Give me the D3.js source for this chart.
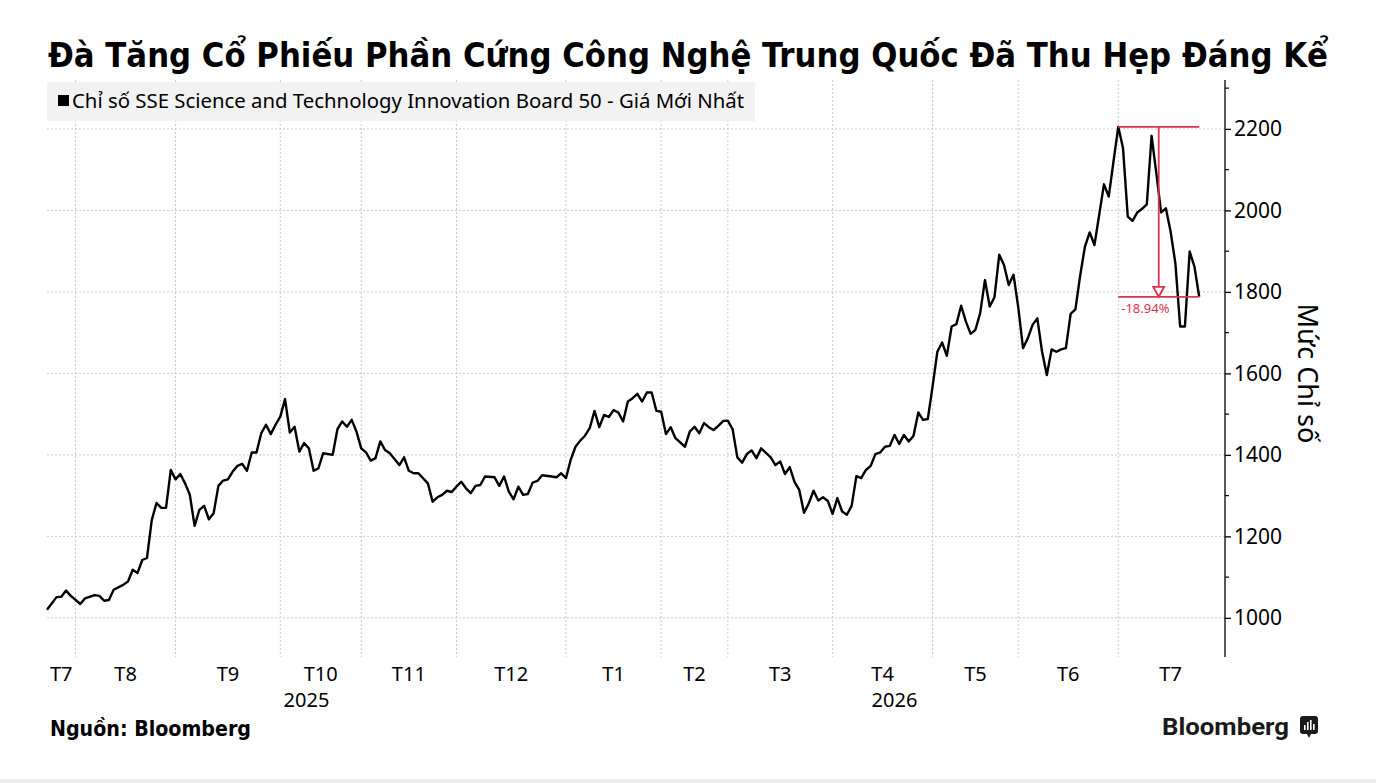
<!DOCTYPE html>
<html><head><meta charset="utf-8">
<script src="https://cdn.jsdelivr.net/npm/d3@7/dist/d3.min.js"></script>
<style>body{margin:0;background:#fff}svg{display:block}</style>
</head><body>
<svg id="chart" width="1376" height="783"></svg>
<script>
// ---------- data ----------
const titleText = "Đà Tăng Cổ Phiếu Phần Cứng Công Nghệ Trung Quốc Đã Thu Hẹp Đáng Kể";
const legendLabel = "Chỉ số SSE Science and Technology Innovation Board 50 - Giá Mới Nhất";
const axisTitle = "Mức Chỉ số";
const sourceText = "Nguồn: Bloomberg";
const brandText = "Bloomberg";

// trading-session index (from first session shown) and index level
const sessions = [0,2,3,4,5,7,8,10,11,12,13,14,16,17,18,19,20,21,22,23,24,25,26,27,28,29,30,31,32,33,34,35,36,37,38,39,40,41,42,43,44,45,46,47,48,49,50,51,52,53,54,55,56,57,58,60,61,62,63,64,65,66,67,68,69,70,71,72,74,75,76,77,78,80,81,82,83,84,85,86,87,88,89,90,91,92,94,95,96,97,98,99,100,101,102,103,104,106,107,108,109,110,111,112,113,114,115,116,117,118,119,120,121,122,123,124,125,126,127,128,129,130,131,132,134,135,136,137,138,139,140,141,142,143,144,145,146,147,148,149,150,152,153,154,155,156,157,158,159,160,161,162,163,164,165,166,167,168,169,170,171,172,173,174,175,176,177,178,179,180,181,182,183,184,185,186,187,188,189,190,191,192,193,194,195,196,197,198,199,200,201,202,203,204,205,206,207,208,209,210,211,212,213,214,215,216,217,218,219,220,222,223,224,225,226,227,228,229,230,231,232,233,234,235,236,237,238,239,240,241,242];
const values = [1020,1051,1052,1067,1054,1034,1048,1056,1054,1042,1044,1069,1081,1089,1118,1110,1142,1147,1240,1282,1270,1270,1363,1340,1353,1330,1302,1226,1265,1275,1242,1257,1324,1337,1340,1359,1373,1378,1361,1406,1406,1453,1474,1451,1474,1494,1537,1455,1469,1408,1429,1416,1361,1367,1404,1400,1463,1482,1469,1486,1457,1416,1406,1386,1392,1433,1412,1404,1375,1394,1361,1355,1355,1330,1285,1296,1302,1312,1309,1322,1334,1318,1306,1324,1326,1347,1345,1324,1347,1310,1291,1322,1302,1304,1332,1336,1350,1347,1345,1355,1343,1388,1420,1435,1447,1466,1508,1468,1498,1493,1510,1504,1482,1531,1539,1550,1531,1553,1553,1508,1506,1451,1468,1441,1420,1457,1469,1453,1478,1468,1461,1471,1483,1484,1463,1394,1381,1402,1411,1392,1416,1394,1375,1384,1353,1370,1334,1314,1258,1281,1312,1288,1296,1287,1255,1294,1261,1253,1275,1348,1343,1363,1373,1402,1406,1420,1422,1449,1427,1449,1433,1447,1504,1486,1488,1568,1653,1676,1643,1715,1721,1766,1727,1697,1707,1748,1829,1764,1787,1891,1866,1817,1842,1762,1662,1686,1719,1735,1653,1596,1659,1653,1659,1662,1746,1757,1840,1911,1946,1915,2064,2034,2120,2205,2153,1985,1974,1995,2004,2015,2183,2091,1995,2005,1948,1870,1715,1715,1899,1862,1788];

const monthLabels = ["T7","T8","T9","T10","T11","T12","T1","T2","T3","T4","T5","T6","T7"];
// session index where each month starts (last entry = end of final month)
const monthStarts = [0,6,27,49,66,86,109,129,143,165,186,204,225,247];
const yearLabels = ["2025","2026"];
const yearSessions = [54.5, 178];
const yTicks = [1000,1200,1400,1600,1800,2000,2200];
const yMinorTicks = [1100,1300,1500,1700,1900,2100,2300];
const drawdownLabel = "-18.94%";

(function () {
const svg = d3.select("#chart");
const pLeft = 47, pRight = 1225, pTop = 80, pBottom = 657;
const red = "#d9344f";
const gridColor = "#c9c9c9";

const x = d3.scaleLinear().domain([0, 247]).range([pLeft, 1223]);
const y = d3.scaleLinear().domain([904, 2320]).range([pBottom, pTop]);

// title: pick a size whose natural width fits, then fill exactly
const t = svg.append("text")
  .attr("x", 48).attr("y", 67)
  .attr("font-family", "'Liberation Sans Narrow','DejaVu Sans Condensed','Roboto','Open Sans',sans-serif")
  .attr("font-weight", "bold").attr("font-size", 37)
  .attr("fill", "#000").text(titleText);
const nat = t.node().getComputedTextLength();
if (nat > 1280) t.attr("font-size", 37 * 1280 / nat);
t.attr("textLength", 1280).attr("lengthAdjust", "spacingAndGlyphs");

// horizontal gridlines
svg.append("g").selectAll("line").data(yTicks).join("line")
  .attr("x1", pLeft).attr("x2", pRight)
  .attr("y1", d => y(d)).attr("y2", d => y(d))
  .attr("stroke", gridColor).attr("stroke-width", 1).attr("stroke-dasharray", "2,2");

// vertical gridlines at month starts
svg.append("g").selectAll("line").data(monthStarts.slice(1, -1)).join("line")
  .attr("x1", d => x(d)).attr("x2", d => x(d))
  .attr("y1", pTop).attr("y2", pBottom)
  .attr("stroke", gridColor).attr("stroke-width", 1).attr("stroke-dasharray", "2,2");

// legend box
svg.append("rect").attr("x", 47).attr("y", 82).attr("width", 708).attr("height", 39).attr("fill", "#f2f2f2");
svg.append("rect").attr("x", 58).attr("y", 95).attr("width", 11).attr("height", 11).attr("fill", "#000");
svg.append("text")
  .attr("x", 72).attr("y", 108)
  .attr("font-family", "'Noto Sans','Open Sans',sans-serif").attr("font-size", 19)
  .attr("textLength", 672).attr("lengthAdjust", "spacingAndGlyphs")
  .attr("fill", "#000").text(legendLabel);

// line
const pts = sessions.map((s, i) => [s, values[i]]);
svg.append("path").datum(pts)
  .attr("d", d3.line().x(d => x(d[0])).y(d => y(d[1])))
  .attr("fill", "none").attr("stroke", "#000").attr("stroke-width", 2.4)
  .attr("stroke-linejoin", "round");

// right axis
const yAxis = d3.axisRight(y).tickValues(yTicks).tickSize(6).tickPadding(3).tickFormat(d3.format("d"));
const ag = svg.append("g").attr("transform", `translate(${pRight},0)`).call(yAxis);
ag.select(".domain").attr("d", `M0,${pTop}V${pBottom}`).attr("stroke", "#000").attr("stroke-width", 1.3);
ag.selectAll(".tick line").attr("stroke", "#000").attr("stroke-width", 1.3);
ag.selectAll(".tick text").attr("font-family", "'Noto Sans','Open Sans',sans-serif")
  .attr("font-size", 21).attr("fill", "#000");
svg.append("g").selectAll("line").data(yMinorTicks.filter(d => y(d) >= pTop)).join("line")
  .attr("x1", pRight).attr("x2", pRight + 4)
  .attr("y1", d => y(d)).attr("y2", d => y(d))
  .attr("stroke", "#000").attr("stroke-width", 1.2);

// axis title
svg.append("text")
  .attr("transform", `translate(1298,${(y(1800) + y(1400)) / 2}) rotate(90)`)
  .attr("text-anchor", "middle")
  .attr("font-family", "'Noto Sans','Open Sans',sans-serif").attr("font-size", 27)
  .attr("fill", "#000").text(axisTitle);

// month labels
svg.append("g").selectAll("text").data(monthLabels).join("text")
  .attr("x", (d, i) => (x(monthStarts[i]) + x(monthStarts[i + 1])) / 2)
  .attr("y", 681).attr("text-anchor", "middle")
  .attr("font-family", "'Noto Sans','Open Sans',sans-serif").attr("font-size", 20)
  .attr("fill", "#000").text(d => d);
svg.append("g").selectAll("text").data(yearLabels).join("text")
  .attr("x", (d, i) => x(yearSessions[i]))
  .attr("y", 707).attr("text-anchor", "middle")
  .attr("font-family", "'Noto Sans','Open Sans',sans-serif").attr("font-size", 20)
  .attr("fill", "#000").text(d => d);

// drawdown annotation
const peakIdx = d3.maxIndex(values);
const lastIdx = values.length - 1;
const x0 = x(sessions[peakIdx]), x1 = x(sessions[lastIdx]);
const yPeak = y(values[peakIdx]), yLast = y(values[lastIdx]);
const xm = (x0 + x1) / 2;
const ann = svg.append("g").attr("stroke", red).attr("stroke-width", 1.8).attr("fill", "none");
ann.append("line").attr("x1", x0).attr("x2", x1).attr("y1", yPeak).attr("y2", yPeak);
ann.append("line").attr("x1", x0).attr("x2", x1).attr("y1", yLast).attr("y2", yLast);
ann.append("line").attr("x1", xm).attr("x2", xm).attr("y1", yPeak).attr("y2", yLast - 10);
ann.append("path").attr("d", `M${xm - 5.5},${yLast - 10}L${xm + 5.5},${yLast - 10}L${xm},${yLast}Z`)
  .attr("fill", "#fff");
svg.append("text").attr("x", x0 + 3).attr("y", yLast + 16)
  .attr("font-family", "'Noto Sans','Open Sans',sans-serif").attr("font-size", 13)
  .attr("fill", red).text(drawdownLabel);

// footer
svg.append("text").attr("x", 50).attr("y", 736)
  .attr("font-family", "'Liberation Sans Narrow','DejaVu Sans Condensed','Roboto',sans-serif")
  .attr("font-weight", "bold").attr("font-size", 21)
  .attr("textLength", 201).attr("lengthAdjust", "spacingAndGlyphs")
  .attr("fill", "#000").text(sourceText);
svg.append("text").attr("x", 1162).attr("y", 735)
  .attr("font-family", "'Roboto','Noto Sans',sans-serif")
  .attr("font-weight", "bold").attr("font-size", 24)
  .attr("textLength", 127).attr("lengthAdjust", "spacingAndGlyphs")
  .attr("fill", "#1a1a1a").text(brandText);
const icon = svg.append("g").attr("transform", "translate(1300,716)");
icon.append("rect").attr("width", 18).attr("height", 18).attr("rx", 3).attr("fill", "#1a1a1a");
icon.append("path").attr("d", "M7,18L9,22L11,18Z").attr("fill", "#1a1a1a");
icon.selectAll("rect.bar").data([[4,9],[7,6],[10,4],[13,8]]).join("rect").attr("class", "bar")
  .attr("x", d => d[0]).attr("y", d => d[1]).attr("width", 1.6).attr("height", d => 14 - d[1])
  .attr("fill", "#fff");

svg.append("rect").attr("x", 0).attr("y", 779).attr("width", 1376).attr("height", 4).attr("fill", "#ececec");
})();
</script>
</body></html>
